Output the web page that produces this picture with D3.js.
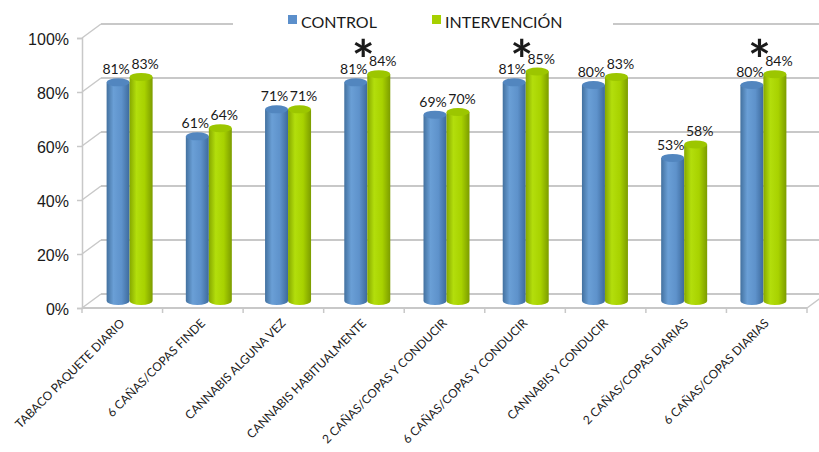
<!DOCTYPE html>
<html lang="es">
<head>
    <meta charset="UTF-8">
    <title>Control vs Intervención</title>
    <script src="https://cdnjs.cloudflare.com/ajax/libs/d3/7.8.2/d3.min.js"></script>
    <style>
        body { margin: 0; background: #fff; }
        svg { display: block; font-family: Lato, "Noto Sans", sans-serif; }
    </style>
</head>
<body>
    <div class="container"></div>
    <script>
        // data
        const categories = [
            'TABACO PAQUETE DIARIO',
            '6 CAÑAS/COPAS FINDE',
            'CANNABIS ALGUNA VEZ',
            'CANNABIS HABITUALMENTE',
            '2 CAÑAS/COPAS Y CONDUCIR',
            '6 CAÑAS/COPAS Y CONDUCIR',
            'CANNABIS Y CONDUCIR',
            '2 CAÑAS/COPAS DIARIAS',
            '6 CAÑAS/COPAS DIARIAS'
        ];
        const seriesNames = ['CONTROL', 'INTERVENCIÓN'];
        const control = [81, 61, 71, 81, 69, 81, 80, 53, 80];
        const intervencion = [83, 64, 71, 84, 70, 85, 83, 58, 84];
        const significant = [false, false, false, true, false, true, false, false, true];
        const yTicks = [0, 20, 40, 60, 80, 100];

        // layout
        let width = 819;
        let height = 452;
        let left = 82, right = 807;
        let floorY = 308, topY = 38;
        let DX = 19, DY = -14;   // depth of the box
        let barW = 23;

        const svg = d3.select('.container').append('svg')
            .attr('width', width).attr('height', height);

        // front edge of the floor and the (slightly narrower) plane the cylinders stand in
        const x = d3.scaleBand().domain(categories).range([left, right]);
        const xBar = d3.scaleBand().domain(categories).range([90, 803]);
        const y = d3.scaleLinear().domain([0, 100]).range([floorY, topY]);

        const gridColor = '#c8c8c8';

        // gradients for cylinders
        const defs = svg.append('defs');
        const makeGrad = (id, stops) => {
            const g = defs.append('linearGradient').attr('id', id)
                .attr('x1', '0%').attr('x2', '100%').attr('y1', '0%').attr('y2', '0%');
            stops.forEach(s => g.append('stop').attr('offset', s[0]).attr('stop-color', s[1]));
        };
        makeGrad('gBlue', [['0%', '#43719f'], ['30%', '#6a9fd6'], ['65%', '#5e92cb'], ['100%', '#3d6a9c']]);
        makeGrad('gGreen', [['0%', '#86a800'], ['30%', '#b3de0c'], ['65%', '#a8d200'], ['100%', '#7c9c00']]);
        const colors = [
            { side: 'url(#gBlue)', top: '#5286bf', key: '#5b8fcb' },
            { side: 'url(#gGreen)', top: '#9cc600', key: '#a6d000' }
        ];

        // back wall gridlines and left wall diagonals
        const grid = svg.append('g');
        yTicks.forEach(t => {
            grid.append('line')
                .attr('x1', left + DX).attr('x2', width)
                .attr('y1', y(t) + DY).attr('y2', y(t) + DY)
                .attr('stroke', gridColor).attr('stroke-width', 2);
            grid.append('line')
                .attr('x1', left).attr('x2', left + DX)
                .attr('y1', y(t)).attr('y2', y(t) + DY)
                .attr('stroke', gridColor).attr('stroke-width', 1.5);
        });

        // y axis on the front
        const yAxis = d3.axisLeft(y).tickValues(yTicks).tickSize(5).tickFormat(d => d + '%');
        const yg = svg.append('g').attr('transform', `translate(${left},0)`).call(yAxis);
        yg.select('.domain').attr('stroke', gridColor).attr('stroke-width', 1.5);
        yg.selectAll('.tick line').attr('stroke', gridColor).attr('stroke-width', 1.5);
        yg.selectAll('.tick text')
            .attr('x', -13).attr('dy', '0.42em')
            .style('font-size', '16px').attr('fill', '#1a1a1a');

        // floor front edge and right edge
        svg.append('line')
            .attr('x1', left).attr('x2', right)
            .attr('y1', floorY).attr('y2', floorY)
            .attr('stroke', gridColor).attr('stroke-width', 2);
        svg.append('line')
            .attr('x1', right).attr('x2', right + DX)
            .attr('y1', floorY).attr('y2', floorY + DY)
            .attr('stroke', gridColor).attr('stroke-width', 1.5);
        const bounds = categories.map(c => x(c)).concat([right]);
        svg.append('g').selectAll('line').data(bounds).enter().append('line')
            .attr('x1', d => d).attr('x2', d => d)
            .attr('y1', floorY).attr('y2', floorY + 5)
            .attr('stroke', gridColor).attr('stroke-width', 1.5);

        // cylinders
        const rows = [];
        categories.forEach((c, i) => {
            [control[i], intervencion[i]].forEach((v, s) => {
                rows.push({ cat: c, i: i, s: s, v: v });
            });
        });

        const barX = d => xBar(d.cat) + xBar.bandwidth() / 2 + (d.s === 0 ? -barW : 0);
        const barTop = d => y(d.v) + DY / 2;
        const barBot = y(0) + DY / 2;
        const ry = 4;

        const bars = svg.append('g').selectAll('g').data(rows).enter().append('g');
        bars.append('path')
            .attr('d', d => {
                const x0 = barX(d), x1 = x0 + barW, t = barTop(d);
                return `M${x0},${t} L${x0},${barBot} A${barW / 2},${ry} 0 0 0 ${x1},${barBot} L${x1},${t} Z`;
            })
            .attr('fill', d => colors[d.s].side);
        bars.append('ellipse')
            .attr('cx', d => barX(d) + barW / 2)
            .attr('cy', d => barTop(d))
            .attr('rx', barW / 2).attr('ry', ry)
            .attr('fill', d => colors[d.s].top);

        // value labels
        svg.append('g').selectAll('text').data(rows).enter().append('text')
            .attr('x', d => barX(d) + barW / 2 + (d.s === 0 ? -2 : 4))
            .attr('y', d => barTop(d) - 8)
            .attr('text-anchor', 'middle')
            .style('font-size', '14px').attr('fill', '#1a1a1a')
            .text(d => d.v + '%');

        // significance asterisks
        svg.append('g').selectAll('text').data(categories.filter((c, i) => significant[i])).enter()
            .append('text')
            .attr('x', c => xBar(c) + xBar.bandwidth() / 2 - 4)
            .attr('y', 79)
            .attr('text-anchor', 'middle')
            .style('font-size', '54px').style('font-weight', 'bold').attr('fill', '#1a1a1a')
            .text('*');

        // category labels
        svg.append('g').selectAll('text').data(categories).enter().append('text')
            .attr('transform', c => `translate(${x(c) + x.bandwidth() / 2 + 3},${floorY + 16}) rotate(-45)`)
            .attr('text-anchor', 'end')
            .style('font-size', '12px').attr('fill', '#1a1a1a')
            .text(c => c);

        // legend
        const legend = svg.append('g');
        legend.append('rect')
            .attr('x', 233).attr('y', 4).attr('width', 380).attr('height', 32)
            .attr('fill', '#fff');
        const legendX = [288, 432];
        seriesNames.forEach((n, s) => {
            legend.append('rect')
                .attr('x', legendX[s]).attr('y', 15).attr('width', 9).attr('height', 9)
                .attr('fill', colors[s].key);
            legend.append('text')
                .attr('x', legendX[s] + 13).attr('y', 28)
                .style('font-size', '16px').attr('fill', '#1a1a1a')
                .text(n);
        });
    </script>
</body>
</html>
